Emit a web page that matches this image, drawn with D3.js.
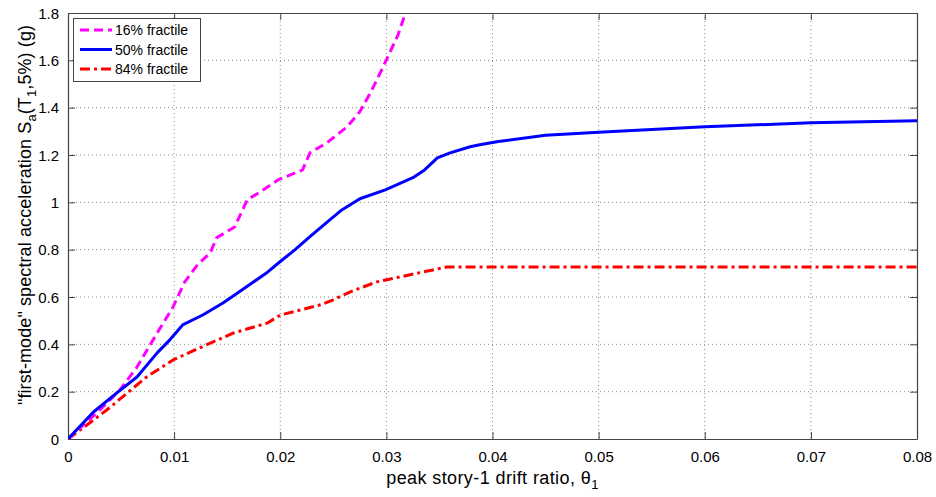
<!DOCTYPE html>
<html><head><meta charset="utf-8">
<script src="https://cdn.jsdelivr.net/npm/d3@7"></script>
<style>body{margin:0;background:#fff}svg{display:block;font-family:"Liberation Sans",Arial,sans-serif}</style>
</head><body><svg id="c" width="936" height="497"></svg>
<script>
const xTicks=[0,0.01,0.02,0.03,0.04,0.05,0.06,0.07,0.08];
const yTicks=[0,0.2,0.4,0.6,0.8,1,1.2,1.4,1.6,1.8];
const seriesNames=["16% fractile","50% fractile","84% fractile"];
const f16x=[0,0.0030,0.0049,0.0065,0.0084,0.0099,0.0110,0.0122,0.0134,0.0140,0.0157,0.0169,0.0181,0.0198,0.0221,0.0228,0.0244,0.0263,0.0275,0.0285,0.0297,0.0311,0.0318];
const f16y=[0,0.123,0.207,0.304,0.448,0.558,0.664,0.736,0.786,0.850,0.896,1.011,1.044,1.095,1.137,1.209,1.252,1.319,1.383,1.463,1.573,1.708,1.80];
const f50x=[0,0.0024,0.0046,0.0065,0.0084,0.0096,0.0108,0.0127,0.0146,0.0156,0.0172,0.0188,0.0200,0.0214,0.0228,0.0245,0.0258,0.0275,0.0299,0.0325,0.0336,0.0348,0.0360,0.0379,0.0388,0.0404,0.045,0.050,0.060,0.070,0.080];
const f50y=[0,0.114,0.195,0.262,0.364,0.419,0.482,0.524,0.575,0.605,0.655,0.705,0.750,0.800,0.855,0.920,0.968,1.015,1.053,1.104,1.137,1.188,1.209,1.235,1.243,1.256,1.283,1.296,1.319,1.336,1.345];
const f84x=[0,0.0024,0.0040,0.0056,0.0074,0.0099,0.0124,0.0156,0.0188,0.0200,0.0219,0.0238,0.0250,0.0266,0.0291,0.0313,0.0335,0.0357,0.080];
const f84y=[0,0.080,0.135,0.195,0.262,0.334,0.385,0.448,0.490,0.524,0.545,0.567,0.588,0.622,0.664,0.685,0.706,0.727,0.727];
const colors=["#ff00ff","#0000ff","#ff0000"];
const dashes=["9,5",null,"10,4,3,4"];

const svg=d3.select("#c");
const L=68,R=917,T=13,B=439;
const x=d3.scaleLinear().domain([0,0.08]).range([L,R]);
const y=d3.scaleLinear().domain([0,1.8]).range([B,T]);

// grid
const g=svg.append("g");
xTicks.slice(1,-1).forEach(t=>g.append("line").attr("x1",x(t)).attr("x2",x(t)).attr("y1",T).attr("y2",B).attr("stroke","#888").attr("stroke-width",1).attr("stroke-dasharray","1,3"));
yTicks.slice(1,-1).forEach(t=>g.append("line").attr("x1",L).attr("x2",R).attr("y1",y(t)).attr("y2",y(t)).attr("stroke","#888").attr("stroke-width",1).attr("stroke-dasharray","1,3"));

// axes
const fmt=d=>d===0?"0":d3.format("")(+d.toFixed(2));
const xa=svg.append("g").attr("transform",`translate(0,${B})`).call(d3.axisBottom(x).tickValues(xTicks).tickSizeInner(-7).tickSizeOuter(0).tickPadding(12).tickFormat(fmt));
const xt=svg.append("g").attr("transform",`translate(0,${T})`).call(d3.axisTop(x).tickValues(xTicks).tickSizeInner(-7).tickSizeOuter(0).tickFormat(""));
const ya=svg.append("g").attr("transform",`translate(${L},0)`).call(d3.axisLeft(y).tickValues(yTicks).tickSizeInner(-7).tickSizeOuter(0).tickPadding(9).tickFormat(fmt));
const yr=svg.append("g").attr("transform",`translate(${R},0)`).call(d3.axisRight(y).tickValues(yTicks).tickSizeInner(-7).tickSizeOuter(0).tickFormat(""));
[xa,xt,ya,yr].forEach(a=>{a.selectAll("path").attr("stroke","#444").attr("stroke-width",1.2);a.selectAll("line").attr("stroke","#444");a.selectAll("text").attr("font-size",15).attr("fill","#000").attr("font-family","Liberation Sans, Arial, sans-serif");});
ya.selectAll("text").attr("dy","0.35em");

// lines
const data=[[f16x,f16y],[f50x,f50y],[f84x,f84y]];
const line=d3.line().x(d=>x(d[0])).y(d=>y(d[1])).curve(d3.curveLinear);
svg.append("clipPath").attr("id","cp").append("rect").attr("x",L).attr("y",T-2).attr("width",R-L).attr("height",B-T+2);
[2,0,1].forEach(i=>{
  const pts=data[i][0].map((v,j)=>[v,data[i][1][j]]);
  svg.append("path").attr("d",line(pts)).attr("fill","none").attr("stroke",colors[i]).attr("stroke-width",3).attr("stroke-linejoin","round").attr("stroke-dasharray",dashes[i]).attr("clip-path","url(#cp)");
});

// legend
const lg=svg.append("g");
lg.append("rect").attr("x",73.5).attr("y",18.5).attr("width",127).attr("height",63).attr("fill","#fff").attr("stroke","#444").attr("stroke-width",1);
seriesNames.forEach((n,i)=>{
  const yy=30+i*19.5;
  lg.append("line").attr("x1",80).attr("x2",112).attr("y1",yy).attr("y2",yy).attr("stroke",colors[i]).attr("stroke-width",3).attr("stroke-dasharray",dashes[i]);
  lg.append("text").attr("x",115).attr("y",yy+5).attr("font-size",14).text(n);
});

// labels
const xl=svg.append("text").attr("x",(L+R)/2).attr("y",484).attr("text-anchor","middle").attr("font-size",18).attr("letter-spacing",0.4);
xl.append("tspan").text("peak story-1 drift ratio, θ");
xl.append("tspan").attr("font-size",13).attr("dy",5).text("1");

const yl=svg.append("text").attr("transform",`translate(31,215) rotate(-90)`).attr("text-anchor","middle").attr("font-size",18).attr("letter-spacing",0.1);
yl.append("tspan").text("\"first-mode\" spectral acceleration S");
yl.append("tspan").attr("font-size",13).attr("dy",5).text("a");
yl.append("tspan").attr("dy",-5).text("(T");
yl.append("tspan").attr("font-size",13).attr("dy",5).text("1");
yl.append("tspan").attr("dy",-5).text(",5%) (g)");
</script></body></html>
